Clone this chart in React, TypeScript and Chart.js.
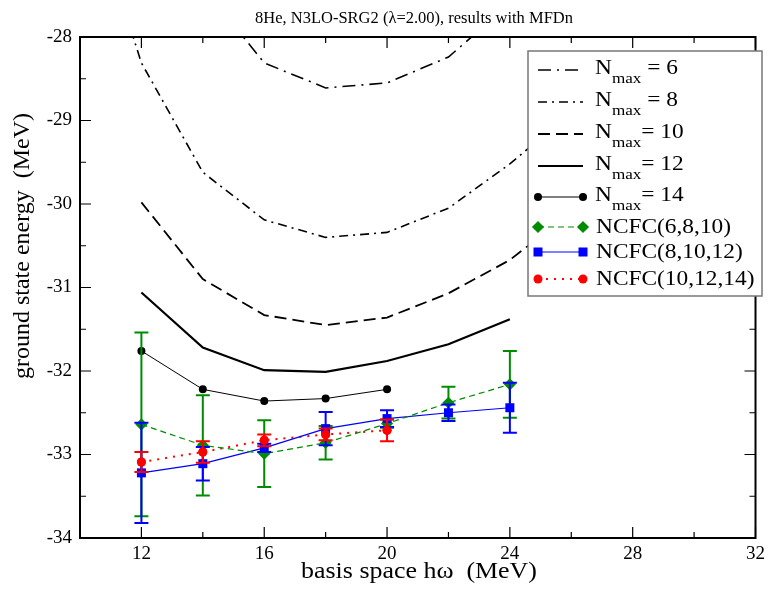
import React, { useEffect, useRef } from "react";
import { Chart, registerables } from "chart.js";
Chart.register(...registerables);

const TITLE = "8He, N3LO-SRG2 (\u03bb=2.00), results with MFDn";
const X_TITLE = "basis space h\u03c9  (MeV)";
const Y_TITLE = "ground state energy  (MeV)";

const xTickLabels = [12, 16, 20, 24, 28, 32];
const xMinorTicks = [14, 18, 22, 26, 30];
const yTickLabels = [-34, -33, -32, -31, -30, -29, -28];
const yMinorTicks = [-33.5, -32.5, -31.5, -30.5, -29.5, -28.5];

const nmax6X = [12, 14, 16, 18, 20, 22, 24];
const nmax6E = [-25.5, -27.4, -28.31, -28.61, -28.55, -28.24, -27.6];
const nmax8X = [10, 12, 14, 16, 18, 20, 22, 24, 26];
const nmax8E = [-26.0, -28.31, -29.62, -30.19, -30.4, -30.34, -30.05, -29.52, -28.9];
const nmax10X = [12, 14, 16, 18, 20, 22, 24, 26];
const nmax10E = [-29.98, -30.9, -31.33, -31.45, -31.36, -31.07, -30.67, -30.1];
const nmax12X = [12, 14, 16, 18, 20, 22, 24];
const nmax12E = [-31.06, -31.72, -31.99, -32.01, -31.88, -31.68, -31.38];
const nmax14X = [12, 14, 16, 18, 20];
const nmax14E = [-31.76, -32.22, -32.36, -32.33, -32.22];

const ncfcAX = [12, 14, 16, 18, 20, 22, 24];
const ncfcAE = [-32.64, -32.89, -32.99, -32.86, -32.63, -32.38, -32.16];
const ncfcAErr = [1.1, 0.6, 0.4, 0.2, 0.05, 0.19, 0.4];
const ncfcBX = [12, 14, 16, 18, 20, 22, 24];
const ncfcBE = [-33.22, -33.11, -32.92, -32.69, -32.57, -32.5, -32.44];
const ncfcBErr = [0.6, 0.2, 0.05, 0.2, 0.1, 0.1, 0.3];
const ncfcCX = [12, 14, 16, 18, 20];
const ncfcCE = [-33.09, -32.97, -32.83, -32.76, -32.71];
const ncfcCErr = [0.12, 0.13, 0.07, 0.07, 0.13];

const GREEN = "rgb(0,140,0)";
const BLUE = "rgb(0,0,255)";
const RED = "rgb(255,0,0)";
const SERIF = "'Liberation Serif', 'DejaVu Serif', serif";

const pts = (xs: number[], ys: number[]) => xs.map((x, i) => ({ x, y: ys[i] }));

function drawMarker(ctx: CanvasRenderingContext2D, style: string, x: number, y: number, r: number, color: string) {
  ctx.save();
  ctx.fillStyle = color;
  ctx.beginPath();
  if (style === "rect") ctx.rect(x - r, y - r, 2 * r, 2 * r);
  else if (style === "rectRot") {
    const d = r * 1.35;
    ctx.moveTo(x, y - d);
    ctx.lineTo(x + d, y);
    ctx.lineTo(x, y + d);
    ctx.lineTo(x - d, y);
    ctx.closePath();
  } else ctx.arc(x, y, r, 0, Math.PI * 2);
  ctx.fill();
  ctx.restore();
}

function sText(ctx: CanvasRenderingContext2D, text: string, x: number, y: number, sx: number, align: CanvasTextAlign) {
  ctx.save();
  ctx.translate(x, y);
  ctx.scale(sx, 1);
  ctx.textAlign = align;
  ctx.fillText(text, 0, 0);
  ctx.restore();
}

const decorPlugin = {
  id: "decor",
  afterDatasetsDraw(chart: any) {
    const ctx: CanvasRenderingContext2D = chart.ctx;
    const xs = chart.scales.x;
    const ys = chart.scales.y;
    chart.data.datasets.forEach((ds: any) => {
      if (!ds.errs) return;
      ctx.save();
      ctx.strokeStyle = ds.borderColor;
      ctx.lineWidth = 2;
      ds.data.forEach((p: any, i: number) => {
        const px = xs.getPixelForValue(p.x);
        const top = ys.getPixelForValue(p.y + ds.errs[i]);
        const bot = ys.getPixelForValue(p.y - ds.errs[i]);
        ctx.beginPath();
        ctx.moveTo(px, top);
        ctx.lineTo(px, bot);
        ctx.moveTo(px - 7, top);
        ctx.lineTo(px + 7, top);
        ctx.moveTo(px - 7, bot);
        ctx.lineTo(px + 7, bot);
        ctx.stroke();
      });
      ctx.restore();
      ds.data.forEach((p: any) => {
        drawMarker(ctx, ds.pointStyle, xs.getPixelForValue(p.x), ys.getPixelForValue(p.y), ds.pointRadius, ds.pointBackgroundColor);
      });
    });
  },
  afterDraw(chart: any) {
    const ctx: CanvasRenderingContext2D = chart.ctx;
    const a = chart.chartArea;
    const xs = chart.scales.x;
    const ys = chart.scales.y;
    ctx.save();
    // frame
    ctx.strokeStyle = "#000";
    ctx.lineWidth = 2;
    ctx.strokeRect(a.left, a.top, a.right - a.left, a.bottom - a.top);
    // ticks
    ctx.lineWidth = 1.2;
    ctx.beginPath();
    const xt = (v: number, len: number) => {
      const p = xs.getPixelForValue(v);
      ctx.moveTo(p, a.bottom);
      ctx.lineTo(p, a.bottom - len);
      ctx.moveTo(p, a.top);
      ctx.lineTo(p, a.top + len);
    };
    const yt = (v: number, len: number) => {
      const p = ys.getPixelForValue(v);
      ctx.moveTo(a.left, p);
      ctx.lineTo(a.left + len, p);
      ctx.moveTo(a.right, p);
      ctx.lineTo(a.right - len, p);
    };
    xTickLabels.forEach((v) => xt(v, 11));
    xMinorTicks.forEach((v) => xt(v, 6));
    yTickLabels.forEach((v) => yt(v, 11));
    yMinorTicks.forEach((v) => yt(v, 6));
    ctx.stroke();

    // titles
    ctx.fillStyle = "#000";
    ctx.textBaseline = "alphabetic";
    ctx.font = `16.5px ${SERIF}`;
    sText(ctx, TITLE, 406, 14.5, 1.0, "center");
    ctx.font = `24px ${SERIF}`;
    sText(ctx, X_TITLE, 411, 570, 1.08, "center");
    ctx.save();
    ctx.translate(15, 238);
    ctx.rotate(-Math.PI / 2);
    ctx.font = `24px ${SERIF}`;
    ctx.textAlign = "center";
    ctx.textBaseline = "middle";
    ctx.fillText(Y_TITLE, 0, 0);
    ctx.restore();

    // legend
    const lx = 520, ly = 43, lw = 234, lh = 245;
    ctx.fillStyle = "#fff";
    ctx.fillRect(lx, ly, lw, lh);
    ctx.strokeStyle = "#777";
    ctx.lineWidth = 1.5;
    ctx.strokeRect(lx, ly, lw, lh);
    const rowsY = [62, 94, 126, 158, 189, 219, 244, 271];
    const SX = 1.14;
    chart.data.datasets.forEach((ds: any, i: number) => {
      const y = rowsY[i];
      ctx.save();
      ctx.strokeStyle = ds.borderColor;
      ctx.lineWidth = ds.borderWidth;
      ctx.setLineDash(ds.borderDash || []);
      ctx.beginPath();
      ctx.moveTo(530, y);
      ctx.lineTo(575, y);
      ctx.stroke();
      ctx.restore();
      if (ds.pointRadius > 0) {
        drawMarker(ctx, ds.pointStyle, 530, y, ds.pointRadius, ds.pointBackgroundColor);
        drawMarker(ctx, ds.pointStyle, 575, y, ds.pointRadius, ds.pointBackgroundColor);
      }
      ctx.fillStyle = "#000";
      ctx.textBaseline = "alphabetic";
      if (ds.sub) {
        ctx.font = `20.5px ${SERIF}`;
        sText(ctx, "N", 587, y + 3.5, SX, "left");
        const nW = ctx.measureText("N").width * SX;
        ctx.font = `15px ${SERIF}`;
        sText(ctx, "max", 587 + nW, y + 12.5, SX, "left");
        const mW = ctx.measureText("max").width * SX;
        ctx.font = `20.5px ${SERIF}`;
        sText(ctx, ds.rest, 587 + nW + mW, y + 3.5, SX, "left");
      } else {
        ctx.font = `20.5px ${SERIF}`;
        sText(ctx, ds.label, 588, y + 6, SX, "left");
      }
    });
    ctx.restore();
  },
};

export default function App() {
  const ref = useRef<HTMLCanvasElement>(null);
  useEffect(() => {
    if (!ref.current) return;
    const base = { showLine: true, fill: false, tension: 0, pointHoverRadius: 0 };
    const chart = new Chart(ref.current, {
      type: "scatter",
      data: {
        datasets: [
          { ...base, label: "Nmax = 6", sub: true, rest: " = 6", data: pts(nmax6X, nmax6E), borderColor: "#000", borderWidth: 1.6, borderDash: [13, 6, 2, 6], pointRadius: 0 },
          { ...base, label: "Nmax = 8", sub: true, rest: " = 8", data: pts(nmax8X, nmax8E), borderColor: "#000", borderWidth: 1.6, borderDash: [9, 5, 2, 5], pointRadius: 0 },
          { ...base, label: "Nmax = 10", sub: true, rest: "= 10", data: pts(nmax10X, nmax10E), borderColor: "#000", borderWidth: 1.8, borderDash: [12, 6], pointRadius: 0 },
          { ...base, label: "Nmax = 12", sub: true, rest: "= 12", data: pts(nmax12X, nmax12E), borderColor: "#000", borderWidth: 2.2, pointRadius: 0 },
          { ...base, label: "Nmax = 14", sub: true, rest: "= 14", data: pts(nmax14X, nmax14E), borderColor: "#000", borderWidth: 1, pointRadius: 4, pointStyle: "circle", pointBackgroundColor: "#000", pointBorderWidth: 0 },
          { ...base, label: "NCFC(6,8,10)", errs: ncfcAErr, data: pts(ncfcAX, ncfcAE), borderColor: GREEN, borderWidth: 1.2, borderDash: [6, 4], pointRadius: 4.5, pointStyle: "rectRot", pointBackgroundColor: GREEN, pointBorderWidth: 0 },
          { ...base, label: "NCFC(8,10,12)", errs: ncfcBErr, data: pts(ncfcBX, ncfcBE), borderColor: BLUE, borderWidth: 1.2, pointRadius: 4.5, pointStyle: "rect", pointBackgroundColor: BLUE, pointBorderWidth: 0 },
          { ...base, label: "NCFC(10,12,14)", errs: ncfcCErr, data: pts(ncfcCX, ncfcCE), borderColor: RED, borderWidth: 2, borderDash: [2, 6], pointRadius: 4.5, pointStyle: "circle", pointBackgroundColor: RED, pointBorderWidth: 0 },
        ] as any,
      },
      options: {
        animation: false,
        responsive: true,
        maintainAspectRatio: false,
        layout: { padding: { top: 29, right: 2, left: 0, bottom: 0 } },
        plugins: { legend: { display: false }, tooltip: { enabled: false }, title: { display: false } },
        elements: { point: { radius: 0 } },
        scales: {
          x: {
            type: "linear",
            min: 10,
            max: 32,
            afterBuildTicks: (s: any) => { s.ticks = xTickLabels.map((v) => ({ value: v })); },
            afterFit: (s: any) => { s.height = 45; },
            grid: { display: false, drawTicks: false },
            border: { display: false },
            ticks: { padding: 5, color: "#000", font: { family: SERIF, size: 19 }, maxRotation: 0, autoSkip: false, callback: (v: any) => String(v) },
          },
          y: {
            type: "linear",
            min: -34,
            max: -28,
            afterBuildTicks: (s: any) => { s.ticks = yTickLabels.map((v) => ({ value: v })); },
            afterFit: (s: any) => { s.width = 72; },
            grid: { display: false, drawTicks: false },
            border: { display: false },
            ticks: { padding: 8, color: "#000", font: { family: SERIF, size: 19 }, callback: (v: any) => String(v) },
          },
        },
      } as any,
      plugins: [decorPlugin],
    });
    return () => chart.destroy();
  }, []);
  return (
    <div style={{ width: "100%", height: 575, position: "relative" }}>
      <canvas ref={ref} />
    </div>
  );
}
